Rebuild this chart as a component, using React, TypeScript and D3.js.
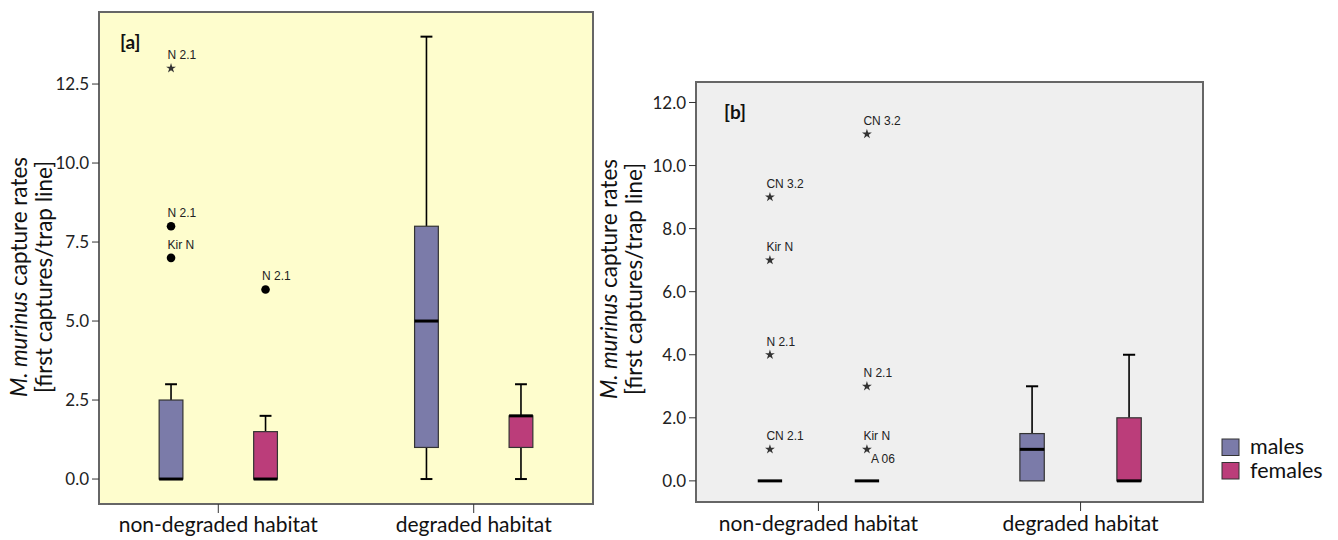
import React from "react";
import * as d3 from "d3";

// ---------- data ----------
const categories = ["non-degraded habitat", "degraded habitat"];
const groups = ["males", "females"];
const groupColors = ["#7b7ba9", "#bb3d7a"];

// panel a – box statistics per category [min, q1, median, q3, max]
const aMales = [
  [0, 0, 0, 2.5, 3],
  [0, 1, 5, 8, 14],
];
const aFemales = [
  [0, 0, 0, 1.5, 2],
  [0, 1, 2, 2, 3],
];
// outliers: [categoryIndex, groupIndex, value, label, kind]
const aOutliers: [number, number, number, string, string][] = [
  [0, 0, 13, "N 2.1", "star"],
  [0, 0, 8, "N 2.1", "circle"],
  [0, 0, 7, "Kir N", "circle"],
  [0, 1, 6, "N 2.1", "circle"],
];
const aTicks = [0, 2.5, 5, 7.5, 10, 12.5];

// panel b
const bMales = [
  [0, 0, 0, 0, 0],
  [0, 0, 1, 1.5, 3],
];
const bFemales = [
  [0, 0, 0, 0, 0],
  [0, 0, 0, 2, 4],
];
const bOutliers: [number, number, number, string, string][] = [
  [0, 0, 9, "CN 3.2", "star"],
  [0, 0, 7, "Kir N", "star"],
  [0, 0, 4, "N 2.1", "star"],
  [0, 0, 1, "CN 2.1", "star"],
  [0, 1, 11, "CN 3.2", "star"],
  [0, 1, 3, "N 2.1", "star"],
  [0, 1, 1, "Kir N", "star"],
  [0, 1, 1, "A 06", "starBelow"],
];
const bTicks = [0, 2, 4, 6, 8, 10, 12];

const FONT = "Lato, 'Open Sans', sans-serif";
const LABEL_FONT = "'Liberation Sans', Arial, sans-serif";

type PanelProps = {
  left: number;
  right: number;
  top: number;
  bottom: number;
  yDomain: [number, number];
  bg: string;
  males: number[][];
  females: number[][];
  outliers: [number, number, number, string, string][];
  ticks: number[];
  tag: string;
  tagX: number;
  tagY: number;
  titleX: number;
  titleY: number;
  xLabelY: number;
};

function Panel(p: PanelProps) {
  const y = d3.scaleLinear().domain(p.yDomain).range([p.bottom, p.top]);
  const x = d3.scalePoint<string>().domain(categories).range([p.left, p.right]).padding(0.467);
  const step = x.step();
  const gx = d3.scalePoint<string>().domain(groups).range([-0.185 * step, 0.185 * step]);
  const bw = 0.093 * step;
  const cap = bw / 2;
  const fmt = d3.format(".1f");
  const star = d3.symbol().type(d3.symbolStar).size(30)() as string;

  const boxes: JSX.Element[] = [];
  [p.males, p.females].forEach((series, gi) => {
    series.forEach((s, ci) => {
      const cx = (x(categories[ci]) as number) + (gx(groups[gi]) as number);
      const [mn, q1, md, q3, mx] = s;
      const key = `${gi}-${ci}`;
      boxes.push(
        <g key={key}>
          {mx > q3 && (
            <>
              <line x1={cx} x2={cx} y1={y(q3)} y2={y(mx)} stroke="#000" strokeWidth={1.6} />
              <line x1={cx - cap / 2} x2={cx + cap / 2} y1={y(mx)} y2={y(mx)} stroke="#000" strokeWidth={2} />
            </>
          )}
          {mn < q1 && (
            <>
              <line x1={cx} x2={cx} y1={y(q1)} y2={y(mn)} stroke="#000" strokeWidth={1.6} />
              <line x1={cx - cap / 2} x2={cx + cap / 2} y1={y(mn)} y2={y(mn)} stroke="#000" strokeWidth={2} />
            </>
          )}
          {q3 > q1 && (
            <rect
              x={cx - bw / 2}
              y={y(q3)}
              width={bw}
              height={y(q1) - y(q3)}
              fill={groupColors[gi]}
              stroke="#333"
              strokeWidth={1.2}
            />
          )}
          <line x1={cx - bw / 2} x2={cx + bw / 2} y1={y(md)} y2={y(md)} stroke="#000" strokeWidth={3} />
        </g>
      );
    });
  });

  const outs = p.outliers.map((o, i) => {
    const [ci, gi, v, label, kind] = o;
    const cx = (x(categories[ci]) as number) + (gx(groups[gi]) as number);
    const cy = y(v);
    return (
      <g key={i}>
        {kind === "circle" ? (
          <circle cx={cx} cy={cy} r={4.3} fill="#000" />
        ) : kind !== "starBelow" ? (
          <path d={star} transform={`translate(${cx},${cy})`} fill="#333" />
        ) : null}
        <text
          x={kind === "starBelow" ? cx + 4 : cx - 3.5}
          y={kind === "starBelow" ? cy + 14 : cy - 9}
          fontFamily={LABEL_FONT}
          fontSize={12}
          fill="#222"
        >
          {label}
        </text>
      </g>
    );
  });

  return (
    <g>
      <rect x={p.left} y={p.top} width={p.right - p.left} height={p.bottom - p.top} fill={p.bg} stroke="#666" strokeWidth={2} />
      {p.ticks.map((t) => (
        <g key={t}>
          <line x1={p.left - 7} x2={p.left} y1={y(t)} y2={y(t)} stroke="#333" strokeWidth={1} />
          <text x={p.left - 10} y={y(t)} dy="0.36em" textAnchor="end" fontFamily={FONT} fontSize={17} fill="#222">
            {fmt(t)}
          </text>
        </g>
      ))}
      {categories.map((c) => (
        <g key={c}>
          <line x1={x(c)} x2={x(c)} y1={p.bottom} y2={p.bottom + 9} stroke="#333" strokeWidth={1} />
          <text x={x(c)} y={p.xLabelY} textAnchor="middle" fontFamily={FONT} fontSize={21} fill="#111">
            {c}
          </text>
        </g>
      ))}
      {boxes}
      {outs}
      <text x={p.tagX} y={p.tagY} fontFamily={FONT} fontWeight="bold" fontSize={19} fill="#111">
        {p.tag}
      </text>
      <g transform={`translate(${p.titleX},${p.titleY}) rotate(-90)`}>
        <text x={0} y={0} textAnchor="middle" fontFamily={FONT} fontSize={22.5} fill="#111">
          <tspan fontStyle="italic">M. murinus</tspan> capture rates
        </text>
        <text x={0} y={25} textAnchor="middle" fontFamily={FONT} fontSize={22.5} fill="#111">
          [first captures/trap line]
        </text>
      </g>
    </g>
  );
}

export default function App() {
  return (
    <svg width={1338} height={540} style={{ position: "absolute", left: 0, top: 0 }}>
      <rect width={1338} height={540} fill="#fff" />
      <Panel
        left={99}
        right={593}
        top={12}
        bottom={504}
        yDomain={[-0.79, 14.78]}
        bg="#fefdcd"
        males={aMales}
        females={aFemales}
        outliers={aOutliers}
        ticks={aTicks}
        tag="[a]"
        tagX={120}
        tagY={49}
        titleX={27}
        titleY={277}
        xLabelY={532}
      />
      <Panel
        left={696}
        right={1203}
        top={82}
        bottom={502}
        yDomain={[-0.67, 12.65]}
        bg="#efefef"
        males={bMales}
        females={bFemales}
        outliers={bOutliers}
        ticks={bTicks}
        tag="[b]"
        tagX={724}
        tagY={119}
        titleX={617}
        titleY={279}
        xLabelY={531}
      />
      {groups.map((g, i) => (
        <g key={g}>
          <rect x={1222} y={439 + i * 23.5} width={17} height={16.5} fill={groupColors[i]} stroke="#333" strokeWidth={1} />
          <text x={1250} y={454 + i * 24} fontFamily={FONT} fontSize={21.5} fill="#111">
            {g}
          </text>
        </g>
      ))}
    </svg>
  );
}
